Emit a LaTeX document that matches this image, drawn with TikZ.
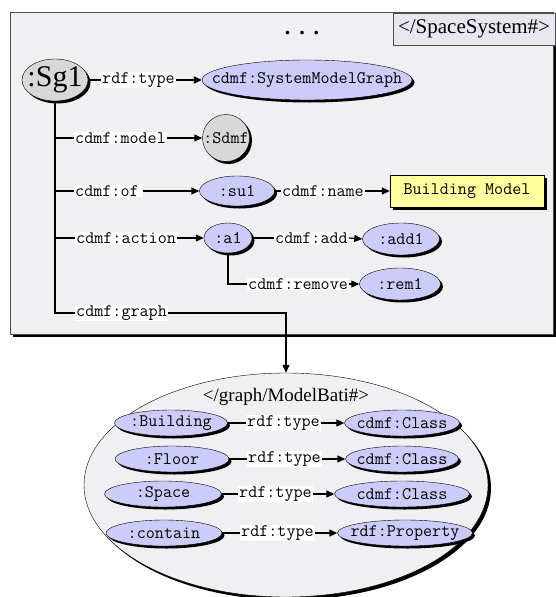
\documentclass[tikz,border=0pt]{standalone}
\usepackage{fontspec}
\setmainfont{Liberation Serif}
\usetikzlibrary{positioning}
\usetikzlibrary{arrows.meta,shapes.geometric,shadows}
\definecolor{panelC}{RGB}{240,239,242}
\definecolor{titleC}{RGB}{232,230,238}
\definecolor{resC}{RGB}{204,204,250}
\definecolor{blankC}{RGB}{216,216,216}
\definecolor{litC}{RGB}{255,255,160}
\definecolor{graphC}{RGB}{240,240,242}
\newcommand{\monof}{\fontsize{17.6}{18}\selectfont\ttfamily}
\newcommand{\zw}[1]{\makebox[0pt]{#1}}
\tikzset{blackshadow/.style={drop shadow={shadow xshift=2.5pt,shadow yshift=-2.5pt,fill=black,opacity=1}}}
\tikzstyle{res}=[draw, shape=ellipse, fill=resC, inner sep=0pt, font=\monof, blackshadow]
\tikzstyle{blank}=[draw, shape=ellipse, fill=blankC, inner sep=0pt, blackshadow]
\tikzstyle{prop}=[fill=white, inner sep=1pt, anchor=west, font=\monof]
\tikzstyle{marrow}=[line width=1.2pt, -{Triangle[length=8pt,width=7pt]}, color=black]
\tikzstyle{mline}=[line width=1.2pt, color=black]
\def\res{\node[style=res]}
\def\prop{\node[style=prop]}
\def\marrow{\draw[style=marrow]}
\def\mline{\draw[style=mline]}

\begin{document}
\begin{tikzpicture}[x=1pt, y=-1pt]
      \useasboundingbox (0,0) rectangle (556,597);
      % space system
      \node[draw=gray!60!black, fill=panelC, minimum width=543pt, minimum height=322pt, inner sep=0pt,
            drop shadow={shadow xshift=3pt,shadow yshift=-3pt,fill=black,opacity=1}] (Pspace) at (281.5,173) {};
      \node[draw=gray!60!black, fill=titleC, minimum width=162pt, minimum height=32pt, inner sep=0pt,
            font=\fontsize{21}{22}\selectfont] (Tspace) at (474,29) {</SpaceSystem\#>};
      \node[font=\fontsize{22}{22}\selectfont\bfseries] (Dots) at (302,33) {.\hspace{9pt}.\hspace{9pt}.};

      % next
      \node[style=blank, minimum width=66pt, minimum height=42pt, font=\fontsize{30}{30}\selectfont] (Sg1) at (55,80) {\zw{:Sg1}};
      \prop (Ltype) at (101,80) {rdf:type};
      \res (Smg) at (307,80) [minimum width=210pt, minimum height=40pt] {\zw{cdmf:SystemModelGraph}};

      \prop (Lmodel) at (74,138) {cdmf:model};
      \node[style=blank, shape=circle, minimum size=47pt, font=\monof] (Sdmf) at (226,138) {\zw{:Sdmf}};

      \prop (Lof) at (74,191) {cdmf:of\,};
      \res (Su1) at (237,191) [minimum width=75pt, minimum height=30pt] {\zw{:su1}};
      \prop (Lname) at (281,191) {cdmf:name};
      \node[draw, fill=litC, minimum width=154pt, minimum height=32pt, inner sep=0pt, font=\monof,
            blackshadow] (Bmodel) at (467,191) {Building Model};

      \prop (Laction) at (75,238) {cdmf:action};
      \res (A1) at (228,238) [minimum width=48pt, minimum height=30pt] {\zw{:a1}};
      \prop (Ladd) at (274,238) {cdmf:add};
      \res (Add1) at (401,239) [minimum width=77pt, minimum height=32pt] {\zw{:add1}};
      \prop (Lremove) at (247,284) {cdmf:remove};
      \res (Rem1) at (400,284) [minimum width=81pt, minimum height=32pt] {\zw{:rem1}};

      \prop (Lgraph) at (75,313) {cdmf:graph};

      \mline (Sg1.east) -- (Ltype.west);
      \marrow (Ltype.east) -- (Smg.west);
      \mline (Sg1.south) |- (Lmodel.west);
      \marrow (Lmodel.east) -- (Sdmf.west);
      \mline (Sg1.south) |- (Lof.west);
      \marrow (Lof.east) -- (Su1.west);
      \mline (Su1.east) -- (Lname.west);
      \marrow (Lname.east) -- (Bmodel.west);
      \mline (Sg1.south) |- (Laction.west);
      \marrow (Laction.east) -- (A1.west);
      \mline (A1.east) -- (Ladd.west);
      \marrow (Ladd.east) -- (Add1.west);
      \mline (A1.south) |- (Lremove.west);
      \marrow (Lremove.east) -- (Rem1.west);
      \mline (Sg1.south) |- (Lgraph.west);

      % graph
      \node[draw, shape=ellipse, fill=graphC, minimum width=404pt, minimum height=224pt, inner sep=0pt,
            drop shadow={shadow xshift=3pt,shadow yshift=-3pt,fill=black,opacity=1}] (Gbati) at (286,485) {};
      \node[font=\fontsize{19}{20}\selectfont] (Tbati) at (286,397) {</graph/ModelBati\#>};
      \marrow (Lgraph.east) -| (Gbati.north);

      % next
      \res (Building) at (171,423) [minimum width=113pt, minimum height=26pt] {\zw{:Building}};
      \prop (Tbuilding) at (246,423) {rdf:type};
      \res (Cbuilding) at (402,423) [minimum width=115pt, minimum height=26pt] {\zw{cdmf:Class}};
      \res (Floor) at (172,459) [minimum width=114pt, minimum height=26pt] {\zw{:Floor}};
      \prop (Tfloor) at (247,459) {rdf:type};
      \res (Cfloor) at (402,459) [minimum width=113pt, minimum height=26pt] {\zw{cdmf:Class}};
      \res (Space) at (163,494) [minimum width=117pt, minimum height=26pt] {\zw{:Space}};
      \prop (Tspace) at (238,494) {rdf:type};
      \res (Cspace) at (402,494) [minimum width=135pt, minimum height=26pt] {\zw{cdmf:Class}};
      \res (Contain) at (164,533) [minimum width=116pt, minimum height=26pt] {\zw{:contain}};
      \prop (Tcontain) at (240,533) {rdf:type};
      \res (Pcontain) at (405,533) [minimum width=135pt, minimum height=26pt] {\zw{rdf:Property}};

      \mline (Building.east) -- (Tbuilding.west);
      \marrow (Tbuilding.east) -- (Cbuilding.west);
      \mline (Floor.east) -- (Tfloor.west);
      \marrow (Tfloor.east) -- (Cfloor.west);
      \mline (Space.east) -- (Tspace.west);
      \marrow (Tspace.east) -- (Cspace.west);
      \mline (Contain.east) -- (Tcontain.west);
      \marrow (Tcontain.east) -- (Pcontain.west);

\end{tikzpicture}
\end{document}
